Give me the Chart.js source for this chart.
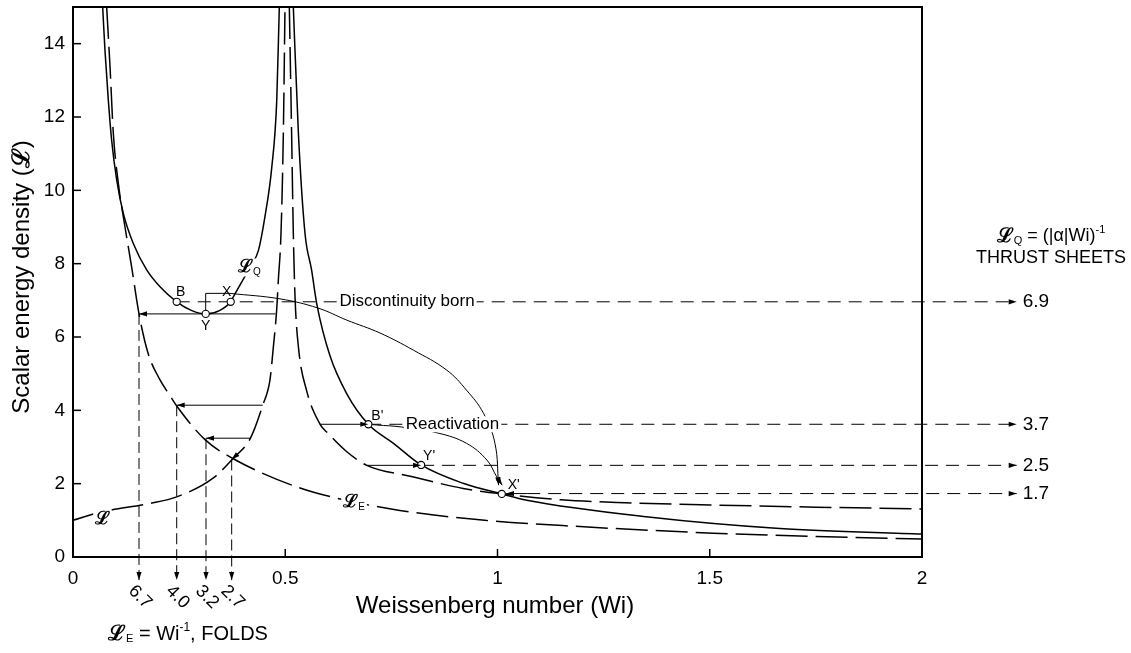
<!DOCTYPE html>
<html><head><meta charset="utf-8">
<script src="https://cdn.jsdelivr.net/npm/chart.js@4/dist/chart.umd.min.js"></script>
<style>html,body{margin:0;padding:0;background:#fff;}canvas{display:block}</style>
</head><body>
<canvas id="c" width="1131" height="653"></canvas>
<script>
const FONT = "'Liberation Sans', Arial, Helvetica, sans-serif";

// ---- axes ----
const xTicks = [0, 0.5, 1, 1.5, 2];
const yTicks = [0, 2, 4, 6, 8, 10, 12, 14];

// ---- curves ----
// L_Q (thrust sheets), left branch (solid U)
const lqLeftX = [0.0699,0.0754,0.0832,0.091,0.103,0.1185,0.142,0.1736,0.205,0.2443,0.28,0.3126,0.345,0.3715,0.378,0.40,0.42,0.437,0.452,0.468,0.480,0.486];
const lqLeftY = [15,13.8,12.46,11.37,10.28,9.37,8.55,7.83,7.37,6.96,6.72,6.63,6.72,6.96,7.1,7.55,7.95,8.37,9.27,10.6,12.46,15];
// L_Q right branch (solid)
const lqRightX = [0.519,0.531,0.5465,0.562,0.574,0.605,0.645,0.6957,0.755,0.82,0.919,1.01,1.069,1.35,1.665,2.0];
const lqRightY = [15,11.55,8.83,7.83,6.92,5.5,4.45,3.62,3.1,2.51,2.01,1.72,1.55,1.1,0.78,0.627];
// L_E = Wi^-1 (folds, dashed)
const leX = [0.0793,0.0872,0.095,0.1068,0.1225,0.138,0.1555,0.177,0.205,0.2285,0.2443,0.311,0.3776,0.535,0.65,0.77,0.97,1.194,1.508,1.75,2.0];
const leY = [15,13.37,11.55,10.19,9.0,7.92,6.63,5.55,4.83,4.40,4.12,3.2,2.68,1.88,1.53,1.27,1.0,0.83,0.65,0.56,0.49];
// dashed curve rising from (0,1) towards Wi = 0.5
const riseX = [0,0.064,0.181,0.2443,0.33,0.3776,0.418,0.447,0.464,0.472,0.4798,0.4837,0.49,0.4955,0.4994];
const riseY = [1.0,1.22,1.46,1.64,2.15,2.69,3.24,4.14,4.83,5.73,6.74,7.55,8.83,11.55,15];
// dashed curve falling from Wi = 0.5
const fallX = [0.5096,0.515,0.519,0.523,0.531,0.55,0.582,0.601,0.645,0.692,0.80,0.919,1.01,1.15,1.3,1.5,1.75,2.0];
const fallY = [15,11.55,8.83,7.1,5.73,4.55,3.62,3.37,2.87,2.5,2.19,1.87,1.72,1.56,1.48,1.42,1.36,1.31];

// ---- marked points ----
const markerNames = ['B','Y','X',"B'","Y'","X'"];
const markerX = [0.2443,0.3126,0.3715,0.6957,0.82,1.01];
const markerY = [6.96,6.63,6.96,3.62,2.51,1.72];

// ---- thrust sheet levels (right) ----
const levelLabels = ['6.9','3.7','2.5','1.7'];
const levelY = [6.96,3.62,2.5,1.73];
const levelStartX = [0.2443,0.6957,0.82,1.07];
const levelEndX = 2.223;
// solid arrows from the dashed curve onto L_Q
const feedFromX = [0.582,0.692,1.07];
const feedToX = [0.6957,0.82,1.02];
const feedY = [3.62,2.5,1.73];

// ---- fold levels (left) ----
const foldLabels = ['6.7','4.0','3.2','2.7'];
const foldX = [0.1555,0.2443,0.3133,0.3738];
const foldY = [6.63,4.14,3.24,2.66];
const foldFromX = [0.477,0.447,0.418,0.392];
const foldFromY = [6.63,4.14,3.24,2.85];
const foldBottomY = -0.63;

// ---- curved arrows ----
const bracketX = [0.3126,0.3126,0.37];
const bracketY = [6.63,7.19,7.19];
const discCurveX = [0.37,0.4876,0.577,0.645,0.723,0.802,0.880,0.927,0.967,0.994,1.0025];
const discCurveY = [7.19,7.04,6.79,6.46,6.11,5.64,5.10,4.55,3.92,3.10,1.96];
const reactArcX = [0.6957,0.7154,0.7743,0.860,0.927,0.975,0.998,1.011];
const reactArcY = [3.62,3.60,3.545,3.38,3.10,2.645,2.19,1.96];

const P = (xs, ys) => xs.map((x, i) => ({x, y: ys[i]}));

function lineDs(data, opt) {
  return Object.assign({type:'line', data, borderColor:'#000', borderWidth:1, pointRadius:0, fill:false, tension:0, clip:false}, opt || {});
}
const curveOpt = {borderWidth:1.5, cubicInterpolationMode:'monotone', clip:0};

const datasets = [];
datasets.push({type:'scatter', data:P(markerX, markerY), pointRadius:3.6, pointBackgroundColor:'#fff', pointBorderColor:'#000', pointBorderWidth:1.1, showLine:false});
datasets.push(lineDs(P(lqLeftX, lqLeftY), curveOpt));
datasets.push(lineDs(P(lqRightX, lqRightY), curveOpt));
datasets.push(lineDs(P(leX, leY), Object.assign({borderDash:[32,8]}, curveOpt)));
datasets.push(lineDs(P(riseX, riseY), Object.assign({borderDash:[32,8]}, curveOpt)));
datasets.push(lineDs(P(fallX, fallY), Object.assign({borderDash:[32,8]}, curveOpt)));
levelLabels.forEach((l, i) => {
  datasets.push(lineDs([{x:levelStartX[i], y:levelY[i]}, {x:levelEndX, y:levelY[i]}], {borderDash:[13,8], arrow:true}));
});
feedFromX.forEach((x, i) => {
  datasets.push(lineDs([{x, y:feedY[i]}, {x:feedToX[i], y:feedY[i]}], {arrow:true}));
});
foldLabels.forEach((l, i) => {
  datasets.push(lineDs([{x:foldFromX[i], y:foldFromY[i]}, {x:foldX[i], y:foldY[i]}], {arrow:true}));
  datasets.push(lineDs([{x:foldX[i], y:foldY[i]}, {x:foldX[i], y:foldBottomY}], {borderDash:[11,5], arrow:true}));
});
datasets.push(lineDs(P(bracketX, bracketY)));
datasets.push(lineDs(P(discCurveX, discCurveY), {tension:0.4, arrow:true}));
datasets.push(lineDs(P(reactArcX, reactArcY), {tension:0.4, arrow:true}));

function arrowHead(ctx, x1, y1, x2, y2) {
  const a = Math.atan2(y2 - y1, x2 - x1);
  ctx.save(); ctx.translate(x2, y2); ctx.rotate(a);
  ctx.beginPath(); ctx.moveTo(0, 0); ctx.lineTo(-8, -2.6); ctx.lineTo(-8, 2.6); ctx.closePath();
  ctx.fillStyle = '#000'; ctx.fill(); ctx.restore();
}

// parts: [text, size, dy, weight]
function rich(ctx, parts, x, y, align, bgH) {
  let w = 0;
  const f = p => (p[3] || '') + ' ' + p[1] + 'px ' + FONT;
  parts.forEach(p => { ctx.font = f(p); p.w = ctx.measureText(p[0]).width; w += p.w; });
  let sx = align === 'center' ? x - w / 2 : (align === 'right' ? x - w : x);
  if (bgH) { ctx.fillStyle = '#fff'; ctx.fillRect(sx - 2, y - bgH / 2, w + 4, bgH); }
  ctx.fillStyle = '#000'; ctx.textBaseline = 'middle'; ctx.textAlign = 'left';
  parts.forEach(p => { ctx.font = f(p); ctx.fillText(p[0], sx, y + (p[2] || 0)); sx += p.w; });
}

const decor = {
  id: 'decor',
  afterDatasetsDraw(chart) {
    const ctx = chart.ctx, xs = chart.scales.x, ys = chart.scales.y, ca = chart.chartArea;
    const px = v => xs.getPixelForValue(v), py = v => ys.getPixelForValue(v);
    ctx.save();
    // arrowheads
    chart.data.datasets.forEach((ds, i) => {
      if (!ds.arrow) return;
      const pts = chart.getDatasetMeta(i).data;
      const a = pts[pts.length - 2], b = pts[pts.length - 1];
      arrowHead(ctx, a.x, a.y, b.x, b.y);
    });
    // frame
    ctx.strokeStyle = '#000'; ctx.lineWidth = 2;
    ctx.strokeRect(ca.left, ca.top, ca.right - ca.left, ca.bottom - ca.top);
    // inward ticks
    ctx.lineWidth = 1.5;
    yTicks.forEach(v => { ctx.beginPath(); ctx.moveTo(ca.left, py(v)); ctx.lineTo(ca.left + 8, py(v)); ctx.stroke(); });
    xTicks.forEach(v => { ctx.beginPath(); ctx.moveTo(px(v), ca.bottom); ctx.lineTo(px(v), ca.bottom - 8); ctx.stroke(); });
    // in-plot texts with gaps
    rich(ctx, [['Discontinuity born', 17]], px(0.787), py(6.96), 'center', 16);
    rich(ctx, [['Reactivation', 17]], px(0.894), py(3.62), 'center', 16);
    rich(ctx, [['ℒ', 18, 0, 'bold'], ['Q', 10, 5]], px(0.42) - 2, py(7.95) + 2, 'center', 18);
    rich(ctx, [['ℒ', 18, 0, 'bold'], ['E', 10, 5]], px(0.662), py(1.5), 'center', 16);
    rich(ctx, [['ℒ', 18, 0, 'bold']], px(0.07), py(1.1) + 2, 'center', 16);
    // marker labels
    const off = [[4,-10],[0,12],[-4,-10],[9,-8],[8,-9],[12,-9]];
    markerNames.forEach((n, i) => {
      rich(ctx, [[n, 14]], px(markerX[i]) + off[i][0], py(markerY[i]) + off[i][1], 'center');
    });
    // right level labels
    levelLabels.forEach((l, i) => rich(ctx, [[l, 19]], px(levelEndX) + 6, py(levelY[i]), 'left'));
    rich(ctx, [['ℒ', 20, 0, 'bold'], ['Q', 11, 5], [' = (|α|Wi)', 18], ['-1', 11, -6]], 1051, 236, 'center');
    rich(ctx, [['THRUST SHEETS', 18]], 1051, 258, 'center');
    // fold labels (rotated)
    ctx.font = '18px ' + FONT; ctx.textAlign = 'center'; ctx.textBaseline = 'middle'; ctx.fillStyle = '#000';
    foldLabels.forEach((l, i) => {
      ctx.save(); ctx.translate(px(foldX[i]) + 1, 597); ctx.rotate(Math.PI / 4);
      ctx.fillText(l, 0, 0); ctx.restore();
    });
    rich(ctx, [['ℒ', 21, 0, 'bold'], ['E', 11, 5], [' = Wi', 20], ['-1', 12, -6], [', FOLDS', 20]], 108, 634, 'left');
    // axis titles
    rich(ctx, [['Weissenberg number (Wi)', 24]], 495, 606, 'center');
    ctx.save(); ctx.translate(22, 277); ctx.rotate(-Math.PI / 2);
    rich(ctx, [['Scalar energy density (', 24], ['ℒ', 24, 0, 'bold'], [')', 24]], 0, 0, 'center');
    ctx.restore();
    ctx.restore();
  }
};

new Chart(document.getElementById('c'), {
  type: 'scatter',
  data: {datasets},
  options: {
    responsive: false, animation: false, devicePixelRatio: 1,
    layout: {padding: {left: 0, top: 7, right: 209, bottom: 0}},
    plugins: {legend: {display: false}, tooltip: {enabled: false}},
    scales: {
      x: {type: 'linear', min: 0, max: 2,
        afterBuildTicks: s => { s.ticks = xTicks.map(v => ({value: v})); },
        afterFit: s => { s.height = 96; s.paddingLeft = 0; s.paddingRight = 0; },
        grid: {display: false, drawTicks: false}, border: {display: false},
        ticks: {color: '#000', font: {family: FONT, size: 19}, padding: 10, maxRotation: 0, callback: v => String(v)}},
      y: {type: 'linear', min: 0, max: 15,
        afterBuildTicks: s => { s.ticks = yTicks.map(v => ({value: v})); },
        afterFit: s => { s.width = 73; s.paddingTop = 0; s.paddingBottom = 0; },
        grid: {display: false, drawTicks: false}, border: {display: false},
        ticks: {color: '#000', font: {family: FONT, size: 19}, padding: 8, callback: v => String(v)}}
    }
  },
  plugins: [decor]
});
</script>
</body></html>
